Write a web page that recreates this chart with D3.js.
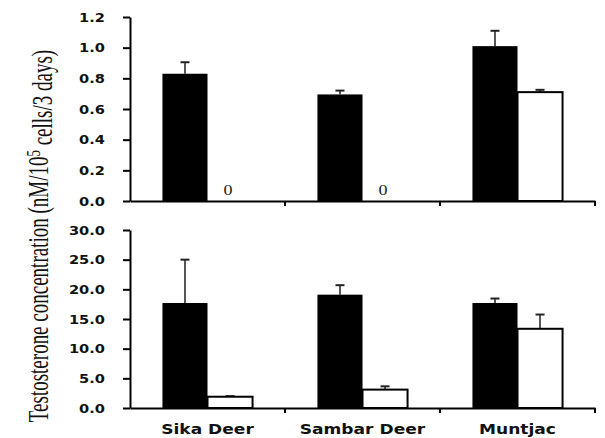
<!DOCTYPE html>
<html><head><meta charset="utf-8">
<script src="https://cdn.jsdelivr.net/npm/d3@7/dist/d3.min.js"></script>
<style>body{margin:0;background:#fff}</style>
</head><body>
<svg id="c" width="605" height="438"></svg>
<script>
const categories = ["Sika Deer", "Sambar Deer", "Muntjac"];
const series = ["black", "white"];
const topBlack = [0.83, 0.695, 1.01];
const topBlackErr = [0.075, 0.025, 0.10];
const topWhite = [0, 0, 0.71];
const topWhiteErr = [0, 0, 0.015];
const botBlack = [17.7, 19.1, 17.7];
const botBlackErr = [7.3, 1.6, 0.75];
const botWhite = [1.9, 3.1, 13.35];
const botWhiteErr = [0.1, 0.55, 2.4];
const topTicks = [0, 0.2, 0.4, 0.6, 0.8, 1.0, 1.2];
const botTicks = [0, 5, 10, 15, 20, 25, 30];
const zeroLabel = "0";
const yTitle = "Testosterone concentration (nM/10";
const yTitleSup = "5";
const yTitleEnd = " cells/3 days)";

const svg = d3.select("#c");
const X0 = 130, X1 = 595;
const SX = 1.22; // horizontal stretch of the original image text

const x = d3.scaleBand().domain(categories).range([X0, X1]).paddingInner(0).paddingOuter(0);
const xs = d3.scaleBand().domain(series).range([0, x.bandwidth()]).paddingInner(0).paddingOuter(0.72);

function panel(y0, y1, maxV, ticks, black, blackErr, white, whiteErr, showZero) {
  const y = d3.scaleLinear().domain([0, maxV]).range([y0, y1]);
  const g = svg.append("g");
  const data = categories.map((c, i) => ({c, i,
    vals: [{s: "black", v: black[i], e: blackErr[i]}, {s: "white", v: white[i], e: whiteErr[i]}]}));

  const eb = g.append("g");
  data.forEach(d => d.vals.forEach(v => {
    if (v.e <= 0) return;
    const cx = x(d.c) + xs(v.s) + xs.bandwidth() / 2;
    eb.append("line").attr("x1", cx).attr("x2", cx).attr("y1", y(v.v)).attr("y2", y(v.v + v.e))
      .attr("stroke", "#555").attr("stroke-width", 2);
    eb.append("line").attr("x1", cx - 4.5).attr("x2", cx + 4.5).attr("y1", y(v.v + v.e)).attr("y2", y(v.v + v.e))
      .attr("stroke", "#222").attr("stroke-width", 2);
  }));

  const groups = g.selectAll("g.cat").data(data).join("g").attr("class", "cat")
    .attr("transform", d => `translate(${x(d.c)},0)`);
  groups.selectAll("rect").data(d => d.vals).join("rect")
    .attr("x", v => xs(v.s))
    .attr("width", xs.bandwidth())
    .attr("y", v => y(v.v))
    .attr("height", v => y(0) - y(v.v))
    .attr("fill", v => v.s === "black" ? "#000" : "#fff")
    .attr("stroke", "#000")
    .attr("stroke-width", v => v.s === "black" ? 0 : 2);

  if (showZero) {
    data.forEach(d => {
      if (d.vals[1].v === 0) {
        g.append("text").attr("x", x(d.c) + xs("white") + xs.bandwidth() / 2 - 2).attr("y", y(0) - 6)
          .attr("text-anchor", "middle").attr("font-family", "Liberation Serif, serif")
          .attr("font-size", 15).attr("fill", "#222")
          .attr("transform", `translate(${-(x(d.c) + xs("white") + xs.bandwidth() / 2 - 2) * 0.2},0) scale(1.2,1)`)
          .text(zeroLabel);
      }
    });
  }

  const ya = g.append("g").attr("transform", `translate(${X0},0)`)
    .call(d3.axisLeft(y).tickValues(ticks).tickFormat(d3.format(".1f")).tickSize(7).tickSizeOuter(0));
  ya.select(".domain").attr("stroke-width", 2);
  ya.selectAll(".tick line").attr("stroke-width", 2);
  ya.selectAll(".tick text")
    .attr("font-family", "DejaVu Sans, sans-serif").attr("font-weight", "bold").attr("font-size", 12)
    .attr("fill", "#111")
    .attr("x", -25 / SX).attr("dy", "0.36em")
    .attr("transform", `scale(${SX},1)`);

  const xa = g.append("g").attr("transform", `translate(0,${y(0)})`)
    .call(d3.axisBottom(x).tickSize(0).tickSizeOuter(0).tickFormat(""));
  xa.select(".domain").attr("stroke-width", 2);
  categories.forEach(c => {
    const bx = x(c) + x.bandwidth();
    xa.append("line").attr("x1", bx).attr("x2", bx).attr("y1", 0).attr("y2", 5)
      .attr("stroke", "#000").attr("stroke-width", 2);
  });
  return y;
}

panel(201, 17, 1.2, topTicks, topBlack, topBlackErr, topWhite, topWhiteErr, true);
panel(408, 230, 30, botTicks, botBlack, botBlackErr, botWhite, botWhiteErr, false);

categories.forEach(c => {
  const cx = x(c) + x.bandwidth() / 2;
  svg.append("text")
    .attr("transform", `translate(${cx},434) scale(${SX},1)`)
    .attr("text-anchor", "middle")
    .attr("font-family", "DejaVu Sans, sans-serif").attr("font-weight", "bold").attr("font-size", 14)
    .attr("fill", "#111").text(c);
});

const yt = svg.append("text")
  .attr("transform", `translate(48,236) scale(1.5,1) rotate(-90)`)
  .attr("text-anchor", "middle")
  .attr("font-family", "Liberation Serif, Times New Roman, serif").attr("font-size", 19)
  .attr("fill", "#111");
yt.append("tspan").text(yTitle);
yt.append("tspan").attr("dy", "-0.4em").attr("font-size", 13).text(yTitleSup);
yt.append("tspan").attr("dy", "0.4em").text(yTitleEnd);
</script>
</body></html>
